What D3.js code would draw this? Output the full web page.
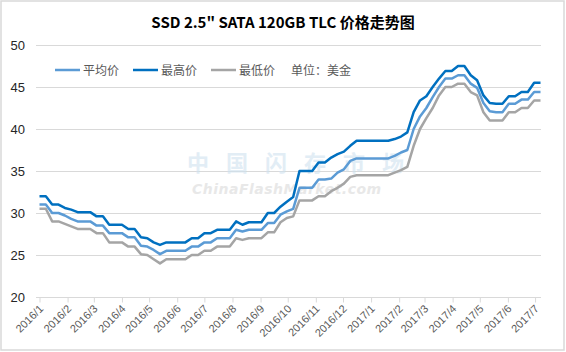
<!DOCTYPE html>
<meta charset="utf-8">
<script src="https://d3js.org/d3.v7.min.js"></script>
<style>
	body{
		margin:0;
		background:#fff;
		font-family: 'Noto Sans CJK SC', 'Liberation Sans', sans-serif;
	}
</style>
<div id="chart"></div>
<script>
// weekly prices, USD
var maxPrice = [32,32,31,31,30.6,30.4,30.1,30.1,30.1,29.6,
	29.6,28.6,28.6,28.6,28.1,28.1,27.1,27.0,26.5,26.2,
	26.5,26.5,26.5,26.5,27.0,27.0,27.6,27.6,28.0,28.0,
	28.0,29.0,28.6,28.9,28.9,28.9,30.0,30.0,30.75,31.35,
	31.9,35,35,35,36,36,36.6,37,37.3,38,
	38.6,38.6,38.6,38.6,38.6,38.6,38.8,39.1,39.6,42.0,
	43.4,43.9,45.0,46.0,46.9,46.9,47.5,47.5,46.4,45.8,
	44.0,43.1,43.0,43.0,43.9,43.9,44.4,44.4,45.5,45.5]
var avgPrice = [31,31,30,30,29.7,29.3,29.0,29.0,29.0,28.5,
	28.5,27.6,27.6,27.6,27.1,27.1,26.1,26.0,25.6,25.1,
	25.5,25.5,25.5,25.5,26.0,26.0,26.5,26.5,27.0,27.0,
	27.0,28.0,27.8,28.0,28.0,28.0,28.8,28.8,29.8,30.2,
	30.5,33,33,33,34,34,34.1,34.8,35.2,36.2,
	36.5,36.5,36.5,36.5,36.5,36.5,36.8,37.2,37.5,40.0,
	41.5,42.5,43.8,45.0,46.0,46.0,46.4,46.4,45.4,44.9,
	43.1,42.1,42.0,42.0,43.0,43.0,43.5,43.5,44.4,44.4]
var minPrice = [30.5,30.5,29,29,28.7,28.4,28.1,28.1,28.1,27.6,
	27.6,26.5,26.5,26.5,26.0,26.0,25.1,25.0,24.5,24.0,
	24.5,24.5,24.5,24.5,25.0,25.0,25.5,25.5,26.0,26.0,
	26.0,27.0,26.8,27.0,27.0,27.0,27.7,27.7,28.9,29.4,
	29.6,31.5,31.5,31.5,32,32,32.6,33,33.5,34.3,
	34.5,34.5,34.5,34.5,34.5,34.5,34.8,35.1,35.5,38.0,
	40.0,41.3,42.5,44.0,45.0,45.0,45.4,45.4,44.4,44.0,
	42.0,41.0,41.0,41.0,42.0,42.0,42.5,42.5,43.4,43.4]

var monthLabels = ["2016/1","2016/2","2016/3","2016/4","2016/5","2016/6","2016/7","2016/8","2016/9","2016/10",
	"2016/11","2016/12","2017/1","2017/2","2017/3","2017/4","2017/5","2017/6","2017/7"]
var yTicks = [20,25,30,35,40,45,50]

var seriesNames = ["平均价","最高价","最低价"]
var seriesColors = ["#5b9bd5","#0070c0","#a5a5a5"]

var startDate = new Date(2016,0,1)
var weeks = maxPrice.map(function(d,i){ return d3.timeDay.offset(startDate, i*7) })
var monthDates = monthLabels.map(function(s){
	var p = s.split("/")
	return new Date(+p[0], +p[1]-1, 1)
})

var w = 566
var h = 352

var svg = d3.select("#chart").append("svg").attr("width",w).attr("height",h)

svg.append("rect").attr("x",1).attr("y",1).attr("width",w-3).attr("height",h-3)
	.attr("fill","#fff").attr("stroke","#d9d9d9").attr("stroke-width",1.5)

var xScale = d3.scaleTime().domain([weeks[0], weeks[weeks.length-1]]).range([39.5,540.5])
var yScale = d3.scaleLinear().domain([20,50]).range([297,45])

// gridlines
svg.append("g").selectAll("line")
	.data(yTicks)
	.join("line")
	.attr("x1",36).attr("x2",541)
	.attr("y1",function(d){ return Math.round(yScale(d))+0.5 })
	.attr("y2",function(d){ return Math.round(yScale(d))+0.5 })
	.attr("stroke","#d9d9d9").attr("stroke-width",1)

svg.append("g").selectAll("text")
	.data(yTicks)
	.join("text")
	.attr("x",25)
	.attr("y",function(d){ return yScale(d)+5 })
	.attr("text-anchor","end")
	.style("font-family","'Liberation Sans', sans-serif")
	.style("font-size","13px")
	.attr("fill","#262626")
	.text(function(d){ return d })

// x axis
var xAxis = d3.axisBottom(xScale).tickValues(monthDates).tickSize(5).tickSizeOuter(0)
	.tickFormat(function(d,i){ return monthLabels[i] })
var gx = svg.append("g").attr("transform","translate(0,"+(Math.round(yScale(20))+0.5)+")").call(xAxis)
gx.select(".domain").attr("stroke","#d9d9d9").attr("d","M36,0H541")
gx.selectAll(".tick line").attr("stroke","#d9d9d9")
gx.selectAll(".tick text")
	.attr("text-anchor","end")
	.attr("fill","#595959")
	.style("font-family","'Liberation Sans', sans-serif")
	.style("font-size","11px")
	.attr("dy",null).attr("y",null)
	.attr("transform","translate(4,12) rotate(-45)")

// watermark
var wm = svg.append("g").attr("opacity",0.6)
wm.append("text").text("中国闪存市场")
	.attr("x",187).attr("y",171)
	.style("font-size","22px").style("font-weight","bold")
	.style("letter-spacing","17px")
	.attr("fill","#cfe2f0")
wm.append("text").text("ChinaFlashMarket.com")
	.attr("x",192).attr("y",194)
	.style("font-family","'DejaVu Sans', sans-serif")
	.style("font-size","14px").style("font-weight","bold").style("font-style","italic")
	.style("letter-spacing","0.5px")
	.attr("fill","#d9d9d9")

// lines
var line = d3.line()
	.x(function(d,i){ return xScale(weeks[i]) })
	.y(function(d){ return yScale(d) })

var allSeries = [avgPrice, maxPrice, minPrice]
svg.append("g").selectAll("path")
	.data([minPrice, avgPrice, maxPrice])
	.join("path")
	.attr("d", line)
	.attr("fill","none")
	.attr("stroke",function(d){ return seriesColors[allSeries.indexOf(d)] })
	.attr("stroke-width",2.5)
	.attr("stroke-linejoin","round")

// title
svg.append("text").text("SSD 2.5\" SATA 120GB TLC 价格走势图")
	.attr("x",283).attr("y",28)
	.attr("text-anchor","middle")
	.style("font-size","15px").style("font-weight","bold")
	.attr("fill","#000")

// legend
var legendX = [55,133,211]
var lg = svg.append("g").selectAll("g")
	.data(seriesNames)
	.join("g")
	.attr("transform",function(d,i){ return "translate("+legendX[i]+",70)" })
lg.append("line").attr("x1",0).attr("x2",25).attr("y1",0).attr("y2",0)
	.attr("stroke",function(d,i){ return seriesColors[i] }).attr("stroke-width",2.5)
lg.append("text").text(function(d){ return d })
	.attr("x",28).attr("y",4.5)
	.style("font-size","12px").attr("fill","#595959")
svg.append("text").text("单位：美金")
	.attr("x",291).attr("y",74.5)
	.style("font-size","12px").attr("fill","#595959")
</script>
